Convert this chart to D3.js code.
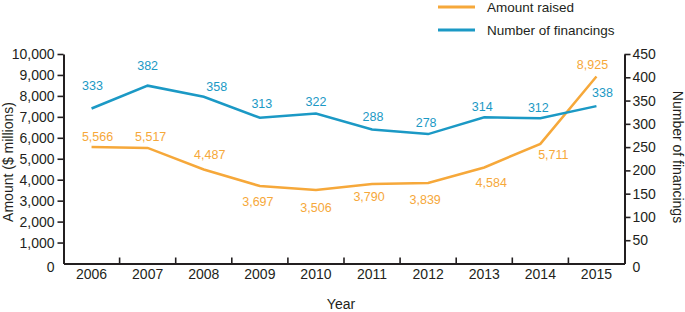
<!DOCTYPE html>
<html>
<head>
<meta charset="utf-8">
<script src="https://cdnjs.cloudflare.com/ajax/libs/d3/7.8.5/d3.min.js"></script>
<style>
	body { margin: 0; background: #fff; }
	svg text { font-family: "Liberation Sans", Arial, sans-serif; fill: #231f20; }
</style>
</head>
<body>
<svg id="chart" width="685" height="312"></svg>
<script>
// -- data --//
const years = ['2006', '2007', '2008', '2009', '2010', '2011', '2012', '2013', '2014', '2015'];
const amountRaised = [5566, 5517, 4487, 3697, 3506, 3790, 3839, 4584, 5711, 8925];
const financings = [333, 382, 358, 313, 322, 288, 278, 314, 312, 338];
const amountTicks = [0, 1000, 2000, 3000, 4000, 5000, 6000, 7000, 8000, 9000, 10000];
const countTicks = [0, 50, 100, 150, 200, 250, 300, 350, 400, 450];

// label offsets from their points (layout only)
const amountLabelOffset = [[6, -6], [3, -7], [6, -10], [-2, 20], [0, 22], [-3, 17], [-3, 21], [7, 20], [13, 15], [-4, -8]];
const countLabelOffset = [[1, -18], [0, -16], [13, -6], [2, -10], [0, -8], [1, -8], [-2, -7], [-2, -6], [-2, -6], [6, -9]];

const orange = '#f6a83a';
const blue = '#1b99c5';

const svg = d3.select('#chart');
const plotLeft = 63.5, plotRight = 624.5, plotTop = 54, plotBottom = 263.5;

let x = d3.scaleBand()
	.domain(years)
	.range([plotLeft, plotRight]);
let yAmount = d3.scaleLinear()
	.domain([0, 10000])
	.range([plotBottom, plotTop]);
let yCount = d3.scaleLinear()
	.domain([0, 450])
	.range([plotBottom, plotTop]);

function cx(i) { return x(years[i]) + x.bandwidth() / 2; }

// left axis
let leftAxis = svg.append('g')
	.attr('transform', 'translate(' + plotLeft + ',0)')
	.call(d3.axisLeft(yAmount)
		.tickValues(amountTicks)
		.tickFormat(d3.format(','))
		.tickSize(6)
		.tickSizeOuter(0)
		.tickPadding(3));

// right axis
let rightAxis = svg.append('g')
	.attr('transform', 'translate(' + plotRight + ',0)')
	.call(d3.axisRight(yCount)
		.tickValues(countTicks)
		.tickSize(6)
		.tickSizeOuter(0)
		.tickPadding(2));

// bottom axis: labels centred in bands, small ticks between bands pointing up
let bottomAxis = svg.append('g')
	.attr('transform', 'translate(0,' + plotBottom + ')')
	.call(d3.axisBottom(x)
		.tickSize(0)
		.tickPadding(6));

bottomAxis.selectAll('.tick')
	.filter(function(d, i) { return i > 0; })
	.append('line')
	.attr('class', 'sep')
	.attr('x1', -x.bandwidth() / 2)
	.attr('x2', -x.bandwidth() / 2)
	.attr('y1', 0)
	.attr('y2', -6);

[leftAxis, rightAxis, bottomAxis].forEach(function(g) {
	g.selectAll('.domain').attr('stroke', '#231f20').attr('stroke-width', 2);
	g.selectAll('.tick line').attr('stroke', '#231f20').attr('stroke-width', 1.6);
	g.selectAll('.tick text')
		.style('font-size', '14px')
		.attr('fill', '#231f20');
});
leftAxis.selectAll('.tick').filter(function(d) { return d === 0; }).select('line').remove();
rightAxis.selectAll('.tick').filter(function(d) { return d === 0; }).select('line').remove();
leftAxis.selectAll('.tick').filter(function(d) { return d === 0; }).select('text').attr('dy', '0.6em');
rightAxis.selectAll('.tick').filter(function(d) { return d === 0; }).select('text').attr('dy', '0.6em');

// axis titles
svg.append('text')
	.attr('transform', 'translate(13,162) rotate(-90)')
	.attr('text-anchor', 'middle')
	.style('font-size', '14px')
	.text('Amount ($ millions)');

svg.append('text')
	.attr('transform', 'translate(673,157) rotate(90)')
	.attr('text-anchor', 'middle')
	.style('font-size', '14px')
	.text('Number of financings');

svg.append('text')
	.attr('x', 341)
	.attr('y', 309)
	.attr('text-anchor', 'middle')
	.style('font-size', '14px')
	.text('Year');

// lines
let amountLine = d3.line()
	.x(function(d, i) { return cx(i); })
	.y(function(d) { return yAmount(d); });
let countLine = d3.line()
	.x(function(d, i) { return cx(i); })
	.y(function(d) { return yCount(d); });

svg.append('path')
	.attr('d', amountLine(amountRaised))
	.attr('fill', 'none')
	.attr('stroke', orange)
	.attr('stroke-width', 2.5);

svg.append('path')
	.attr('d', countLine(financings))
	.attr('fill', 'none')
	.attr('stroke', blue)
	.attr('stroke-width', 2.5);

// value labels
svg.append('g').selectAll('text')
	.data(amountRaised)
	.join('text')
	.attr('x', function(d, i) { return cx(i) + amountLabelOffset[i][0]; })
	.attr('y', function(d, i) { return yAmount(d) + amountLabelOffset[i][1]; })
	.attr('text-anchor', 'middle')
	.style('font-size', '12.5px')
	.style('fill', orange)
	.text(d3.format(','));

svg.append('g').selectAll('text')
	.data(financings)
	.join('text')
	.attr('x', function(d, i) { return cx(i) + countLabelOffset[i][0]; })
	.attr('y', function(d, i) { return yCount(d) + countLabelOffset[i][1]; })
	.attr('text-anchor', 'middle')
	.style('font-size', '12.5px')
	.style('fill', blue)
	.text(function(d) { return d; });

// legend
const legendItems = [
	{ name: 'Amount raised', color: orange },
	{ name: 'Number of financings', color: blue }
];
let legend = svg.append('g').selectAll('g')
	.data(legendItems)
	.join('g')
	.attr('transform', function(d, i) { return 'translate(438,' + (7 + i * 23) + ')'; });

legend.append('line')
	.attr('x1', 0)
	.attr('x2', 37)
	.attr('stroke', function(d) { return d.color; })
	.attr('stroke-width', 3);

legend.append('text')
	.attr('x', 49)
	.attr('y', 5)
	.style('font-size', '13.5px')
	.text(function(d) { return d.name; });
</script>
</body>
</html>
